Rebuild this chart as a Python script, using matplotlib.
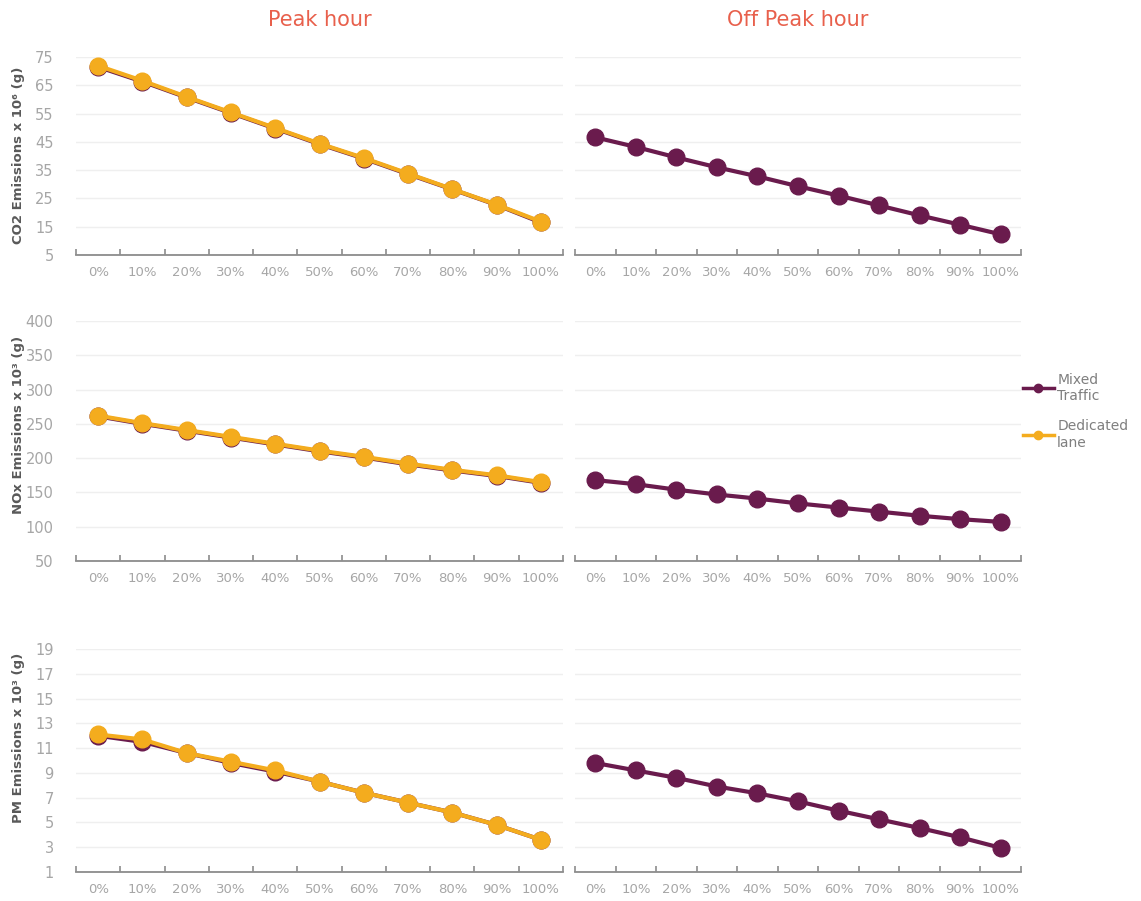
import matplotlib
matplotlib.use("Agg")
import matplotlib.pyplot as plt
from matplotlib.ticker import FixedLocator
from matplotlib.lines import Line2D

categories = ["0%", "10%", "20%", "30%", "40%", "50%", "60%", "70%", "80%", "90%", "100%"]

co2_peak_mixed = [71.5, 66.3, 60.7, 55.2, 49.7, 44.2, 39.1, 33.6, 28.2, 22.7, 16.5]
co2_peak_dedicated = [71.9, 66.6, 60.9, 55.4, 49.9, 44.4, 39.3, 33.8, 28.3, 22.8, 16.8]
co2_offpeak_mixed = [46.6, 43.2, 39.5, 36.0, 32.8, 29.3, 26.0, 22.5, 19.0, 15.7, 12.3]

nox_peak_mixed = [261, 250, 240, 230, 220, 210, 201, 191, 182, 174, 164]
nox_peak_dedicated = [262, 251, 241, 231, 221, 211, 202, 192, 183, 175, 165]
nox_offpeak_mixed = [168, 162, 154, 147, 141, 134, 128, 122, 116, 111, 107]

pm_peak_mixed = [12.0, 11.5, 10.6, 9.8, 9.1, 8.3, 7.4, 6.6, 5.8, 4.8, 3.6]
pm_peak_dedicated = [12.1, 11.7, 10.6, 9.9, 9.2, 8.3, 7.4, 6.6, 5.8, 4.8, 3.6]
pm_offpeak_mixed = [9.8, 9.2, 8.6, 7.9, 7.35, 6.7, 5.95, 5.25, 4.55, 3.8, 2.95]

col_titles = ["Peak hour", "Off Peak hour"]
row_labels = ["CO2 Emissions x 10\u2076 (g)", "NOx Emissions x 10\u00b3 (g)", "PM Emissions x 10\u00b3 (g)"]
series_names = ["Mixed\nTraffic", "Dedicated\nlane"]
y_ticks = [[5, 15, 25, 35, 45, 55, 65, 75],
           [50, 100, 150, 200, 250, 300, 350, 400],
           [1, 3, 5, 7, 9, 11, 13, 15, 17, 19]]

PURPLE = "#6A1B4D"
YELLOW = "#F4AC1E"
TICKC = "#A6A6A6"
LABC = "#7F7F7F"
TITLEC = "#E8604C"

plt.rcParams['font.family'] = ['DejaVu Sans']
fig = plt.figure(figsize=(11.41, 9.01), dpi=100)

W, H = 1141, 901
rows_px = [(57, 255), (321, 561), (649, 872)]
cols_px = [(76, 563), (575, 1021)]
label_y_px = [155, 425, 738]

peak = [(co2_peak_mixed, co2_peak_dedicated), (nox_peak_mixed, nox_peak_dedicated), (pm_peak_mixed, pm_peak_dedicated)]
offpeak = [co2_offpeak_mixed, nox_offpeak_mixed, pm_offpeak_mixed]

LW = 3.0
MS = 12
x = list(range(len(categories)))
for r, (top, bot) in enumerate(rows_px):
    for c, (l, rgt) in enumerate(cols_px):
        ax = fig.add_axes([l / W, 1 - bot / H, (rgt - l) / W, (bot - top) / H])
        yt = y_ticks[r]
        if c == 0:
            m, d = peak[r]
            ax.plot(x, m, color=PURPLE, lw=LW, marker='o', ms=MS, zorder=3)
            ax.plot(x, d, color=YELLOW, lw=LW, marker='o', ms=MS, zorder=4)
        else:
            ax.plot(x, offpeak[r], color=PURPLE, lw=LW, marker='o', ms=MS, zorder=3)
        ax.set_xlim(-0.5, len(categories) - 0.5)
        ax.set_ylim(yt[0], yt[-1])
        ax.yaxis.set_major_locator(FixedLocator(yt))
        ax.grid(axis='y', color='#EFEFEF', lw=1)
        ax.set_axisbelow(True)
        for s in ['top', 'right', 'left']:
            ax.spines[s].set_visible(False)
        ax.spines['bottom'].set_color('#8C8C8C')
        ax.spines['bottom'].set_linewidth(1.3)
        ax.set_xticks(x)
        ax.set_xticklabels(categories)
        ax.tick_params(axis='x', which='major', length=0, colors=TICKC, labelsize=9.5, pad=8)
        ax.set_xticks([i - 0.5 for i in range(len(categories) + 1)], minor=True)
        ax.tick_params(axis='x', which='minor', direction='in', length=4, color='#8C8C8C', width=1.2)
        ax.tick_params(axis='y', length=0, colors=TICKC, labelsize=10.5, pad=16)
        if c == 0:
            ax.set_ylabel(row_labels[r], color='#595959', fontsize=9.5, fontweight='bold')
            ax.yaxis.set_label_coords(25 / W, 1 - label_y_px[r] / H, transform=fig.transFigure)
        else:
            ax.set_yticklabels([])
        if r == 0:
            ax.set_title(col_titles[c], color=TITLEC, fontsize=15, pad=22)

handles = [Line2D([0], [0], color=PURPLE, lw=2.5, marker='o', ms=6),
           Line2D([0], [0], color=YELLOW, lw=2.5, marker='o', ms=6)]
fig.legend(handles, series_names, loc='upper left', bbox_to_anchor=(1010 / W, 1 - 360 / H),
           frameon=False, fontsize=10, labelcolor=LABC, handlelength=2.3, handletextpad=0.2,
           labelspacing=1.2)

fig.savefig("out.png", dpi=100, facecolor='white')
